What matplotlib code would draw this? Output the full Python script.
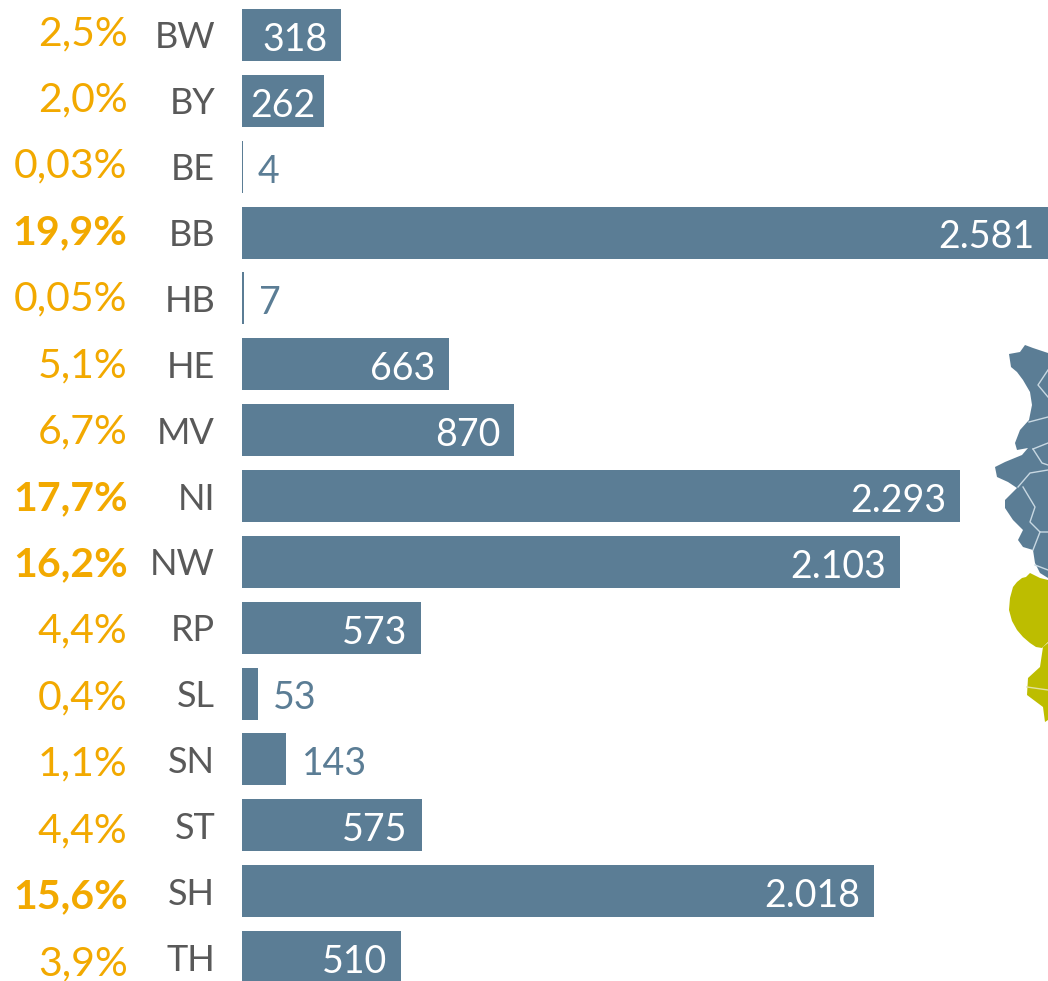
import numpy as np
import matplotlib
matplotlib.use("Agg")
import matplotlib.pyplot as plt

plt.rcParams["font.family"] = ["Lato", "DejaVu Sans"]

states = ["BW", "BY", "BE", "BB", "HB", "HE", "MV", "NI", "NW", "RP", "SL", "SN", "ST", "SH", "TH"]
values = [318, 262, 4, 2581, 7, 663, 870, 2293, 2103, 573, 53, 143, 575, 2018, 510]
value_labels = ["318", "262", "4", "2.581", "7", "663", "870", "2.293", "2.103", "573", "53", "143", "575", "2.018", "510"]
shares = ["2,5%", "2,0%", "0,03%", "19,9%", "0,05%", "5,1%", "6,7%", "17,7%", "16,2%", "4,4%", "0,4%", "1,1%", "4,4%", "15,6%", "3,9%"]
bold_states = ["BB", "NI", "NW", "SH"]

BLUE = "#5b7d95"
ORANGE = "#f2a900"
GREY = "#595959"
OLIVE = "#bdbd00"
W, H = 1048, 981

# decorative map fragment at the right edge, in image pixels
map_blue = [(1025, 345), (1033, 348), (1048, 353), (1048, 578), (1040, 573), (1035, 563), (1033, 550),
            (1023, 547), (1018, 540), (1023, 530), (1013, 520), (1005, 508), (1005, 500), (1017, 488),
            (1008, 482), (997, 477), (995, 467), (1005, 462), (1022, 455), (1028, 448), (1017, 450),
            (1015, 443), (1020, 430), (1029, 420), (1032, 405), (1030, 392), (1023, 380), (1017, 372),
            (1011, 367), (1009, 354), (1020, 352)]
map_olive_a = [(1030, 573), (1036, 576), (1040, 578), (1048, 580), (1048, 642), (1042, 648), (1036, 647),
               (1030, 643), (1023, 637), (1017, 630), (1012, 621), (1009, 610), (1010, 598), (1013, 587),
               (1017, 582), (1022, 578), (1026, 577)]
map_olive_b = [(1043, 647), (1048, 643), (1048, 720), (1045, 722), (1043, 707), (1027, 695),
               (1028, 678), (1040, 667)]
map_borders = [[(1048, 370), (1038, 385), (1048, 397)],
               [(1029, 422), (1048, 417)],
               [(1033, 449), (1048, 443)],
               [(1033, 449), (1042, 463), (1048, 465)],
               [(1018, 487), (1030, 473), (1048, 470)],
               [(1023, 487), (1035, 507), (1030, 522), (1040, 532), (1048, 532)],
               [(1040, 532), (1033, 550)],
               [(1035, 565), (1048, 570)]]
map_olive_border = [(1027, 687), (1048, 690)]

fig = plt.figure(figsize=(W / 100, H / 100), dpi=100)
ax = fig.add_axes([241.5 / W, 0, 1 - 241.5 / W, 1])

pos = np.arange(len(states))
ax.barh(pos, values, height=52 / 65.86, color=BLUE, linewidth=0)
ax.set_xlim(0, 2574)
ax.set_ylim((981 - 35) / 65.86, -35 / 65.86)
for s in ax.spines.values():
    s.set_visible(False)
ax.set_xticks([])
ax.set_yticks(pos)
ax.set_yticklabels(states, fontsize=26, color=GREY)
ax.tick_params(axis="y", length=0, pad=19)

for i, (v, lab) in enumerate(zip(values, value_labels)):
    shown = min(v, 2574)
    if v < 200:
        ax.annotate(lab, (shown, i), xytext=(11, -1), textcoords="offset points", ha="left", va="center_baseline",
                    fontsize=27, color=BLUE)
    else:
        off = -6 if v == 262 else -10
        ax.annotate(lab, (shown, i), xytext=(off, -1), textcoords="offset points", ha="right", va="center_baseline",
                    fontsize=27, color="white")

# share column drifts slightly against the bar rows
for i, (st, txt) in enumerate(zip(states, shares)):
    ypx = 30 + 66.43 * i
    fig.text(127.5 / W, 1 - ypx / H, txt, ha="right", va="center_baseline", fontsize=29.5, color=ORANGE,
             fontweight="bold" if st in bold_states else "normal")

mp = fig.add_axes([0, 0, 1, 1], zorder=-1)
mp.set_xlim(0, W)
mp.set_ylim(H, 0)
mp.axis("off")
mp.fill(*zip(*map_blue), color=BLUE, lw=0)
mp.fill(*zip(*map_olive_a), color=OLIVE, lw=0)
mp.fill(*zip(*map_olive_b), color=OLIVE, lw=0)
for b in map_borders:
    mp.plot(*zip(*b), color="#c8d8e2", lw=1)
mp.plot(*zip(*map_olive_border), color="#e2e2a0", lw=1)

ax.patch.set_alpha(0)
fig.savefig("out.png", dpi=100)
print("saved out.png")
